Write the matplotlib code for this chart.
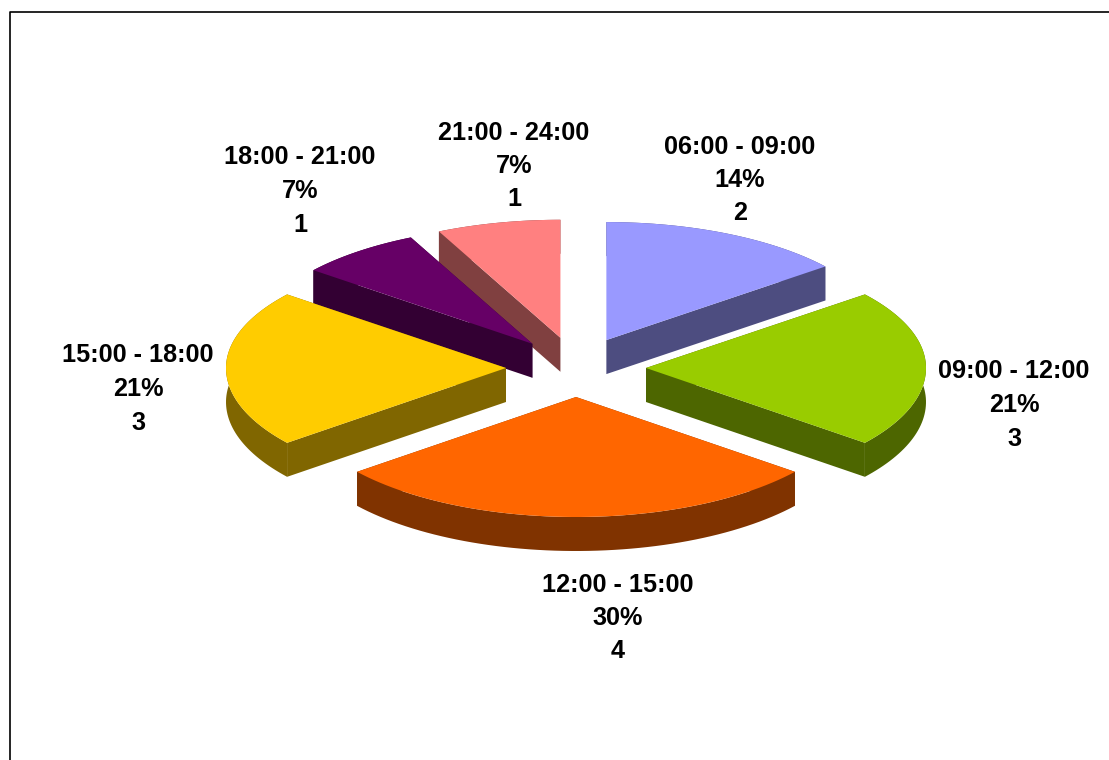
import matplotlib
matplotlib.use("Agg")
import matplotlib.pyplot as plt
import numpy as np

labels = ["06:00 - 09:00", "09:00 - 12:00", "12:00 - 15:00", "15:00 - 18:00", "18:00 - 21:00", "21:00 - 24:00"]
values = [2, 3, 4, 3, 1, 1]
percents = ["14%", "21%", "30%", "21%", "7%", "7%"]
top_colors = ["#9999FF", "#99CC00", "#FF6600", "#FFCC00", "#660066", "#FF8080"]
side_colors = ["#4D4D80", "#4D6600", "#803300", "#806600", "#330033", "#804040"]
label_pos = [(740, 180), (1014, 405), (618, 618), (138, 389), (300, 191), (514, 166)]

W, H = 1109, 760
CX, CY = 576, 368
RX = 280
RY_BACK, RY_FRONT = 118, 120
EX = 70
EY_BACK, EY_FRONT = 31, 29
DEPTH = 34
# back to front, so nearer slices cover the ones behind
draw_order = [5, 0, 4, 1, 3, 2]


def rim(start, stop, ox, oy, n=60):
    t = np.radians(np.linspace(start, stop, n))
    c = np.cos(t)
    return ox + RX * np.sin(t), oy - np.where(c > 0, RY_BACK, RY_FRONT) * c


def wall(ax, xs, ys, color, z):
    px = np.concatenate([xs, xs[::-1]])
    py = np.concatenate([ys, ys[::-1] + DEPTH])
    ax.fill(px, py, color=color, lw=0, zorder=z)


fig = plt.figure(figsize=(W / 100, H / 100), dpi=100)
ax = fig.add_axes([0, 0, 1, 1])
ax.set_xlim(0, W)
ax.set_ylim(H, 0)
ax.axis("off")

ax.plot([10, 10, W], [H, 12, 12], color="black", lw=1.2, zorder=1)

edges = np.concatenate([[0], np.cumsum(values)]) / sum(values) * 360
for z, i in enumerate(draw_order):
    a0, a1 = edges[i], edges[i + 1]
    mid = np.radians((a0 + a1) / 2)
    ox = CX + EX * np.sin(mid)
    oy = CY - (EY_BACK if np.cos(mid) > 0 else EY_FRONT) * np.cos(mid)
    base = 10 + z * 5
    xs, ys = rim(a0, a1, ox, oy)

    # cut faces from the apex out to the rim, then the outer wall
    for a in (a0, a1):
        ex, ey = rim(a, a, ox, oy, n=1)
        wall(ax, np.array([ox, ex[0]]), np.array([oy, ey[0]]), side_colors[i], base)
    wall(ax, xs, ys, side_colors[i], base + 1)
    ax.fill(np.concatenate([[ox], xs]), np.concatenate([[oy], ys]), color=top_colors[i], lw=0, zorder=base + 2)

for name, pct, val, (lx, ly) in zip(labels, percents, values, label_pos):
    ax.text(lx, ly, f"{name}\n{pct}\n{val}", ha="center", va="center", family="Liberation Sans",
            fontweight="bold", fontsize=18.2, linespacing=1.5, color="black", zorder=60)

fig.savefig("out.png", dpi=100)
